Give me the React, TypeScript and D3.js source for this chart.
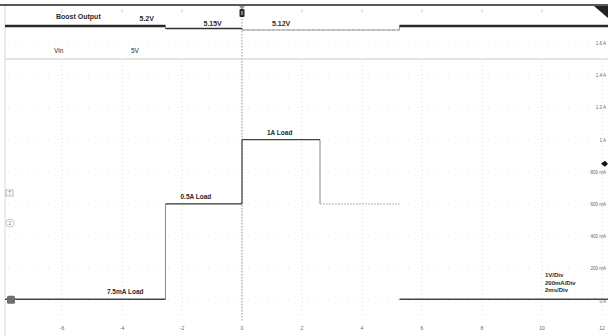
import * as d3 from 'd3';

// time axis (ms), trigger at 0
const timeTicks = [-6, -4, -2, 0, 2, 4, 6, 8, 10, 12];
const timeTickLabels = ['-6', '-4', '-2', '0', '2', '4', '6', '8', '10', '12'];

// current channel (mA)
const currentTicks = [0, 200, 400, 600, 800, 1000, 1200, 1400, 1600];
const currentTickLabels = ['0 A', '200 mA', '400 mA', '600 mA', '800 mA', '1 A', '1.2 A', '1.4 A', '1.6 A'];

// step edges for each trace
const boostTimes = [-7.9, -2.55, 0, 5.25, 12.2];
const boostVolts = [5.2, 5.15, 5.12, 5.2];
const boostLabels = ['5.2V', '5.15V', '5.12V'];

const loadTimes = [-7.9, -2.55, 0, 2.6, 5.25, 12.2];
const loadCurrent = [7.5, 600, 1000, 600, 7.5];
const loadLabels = ['7.5mA Load', '0.5A Load', '1A Load'];

const vinTimes = [-7.9, 12.2];
const vinVolts = [5, 5];

const scaleLines = ['1V/Div', '200mA/Div', '2ms/Div'];

const W = 608;
const H = 336;
const FONT = '"Liberation Sans", Arial, sans-serif';

export default function App() {
  const x = d3.scaleLinear().domain([-7.9, 12.2]).range([5, 608]);
  const yI = d3.scaleLinear().domain([0, 1600]).range([300.5, 43]);
  const yV = d3.scaleLinear().domain([5.12, 5.2]).range([30, 26]);
  const yVin = d3.scaleLinear().domain([4, 6]).range([92, 26]);

  const seg = (t0: number, t1: number, yy: number) =>
    d3.line<[number, number]>()([[x(t0), yy], [x(t1), yy]]) ?? '';

  const stepPath = (times: number[], vals: number[], sc: (v: number) => number) => {
    const pts: [number, number][] = vals.map((v, i) => [x(times[i]), sc(v)]);
    pts.push([x(times[times.length - 1]), sc(vals[vals.length - 1])]);
    return d3.line<[number, number]>().curve(d3.curveStepAfter)(pts) ?? '';
  };

  const boostStyle = [
    { stroke: '#2a2a2a', w: 2.4, dash: '' },
    { stroke: '#333', w: 1.3, dash: '' },
    { stroke: '#aaa', w: 1, dash: '3,2' },
    { stroke: '#2a2a2a', w: 2.6, dash: '' },
  ];
  const loadStyle = [
    { stroke: '#444', w: 1.6, dash: '' },
    { stroke: '#333', w: 1.3, dash: '' },
    { stroke: '#444', w: 1.2, dash: '' },
    { stroke: '#b5b5b5', w: 1, dash: '2,1' },
    { stroke: '#444', w: 1.4, dash: '' },
  ];

  const x0 = x(0);

  return (
    <svg
      width={W}
      height={H}
      style={{ position: 'absolute', left: 0, top: 0, background: '#fff' }}
      fontFamily={FONT}
    >
      {/* grid */}
      {timeTicks.map((t) => (
        <line key={'gv' + t} x1={x(t)} x2={x(t)} y1={62} y2={318}
          stroke="#cfcfcf" strokeWidth={0.8} strokeDasharray="1,3" />
      ))}
      {currentTicks.map((c) => (
        <line key={'gh' + c} x1={8} x2={590} y1={yI(c)} y2={yI(c)}
          stroke="#dcdcdc" strokeWidth={0.8} strokeDasharray="1,9" />
      ))}
      {timeTicks.map((t) => (
        <line key={'tt' + t} x1={x(t)} x2={x(t)} y1={9} y2={13} stroke="#c8c8c8" strokeWidth={0.8} />
      ))}

      {/* frame */}
      <line x1={5} x2={5} y1={5} y2={H} stroke="#d8d8d8" strokeWidth={1} />
      <line x1={0} x2={W} y1={5} y2={5} stroke="#222" strokeWidth={1.6} />

      {/* trigger cursor */}
      <line x1={x0} x2={x0} y1={10} y2={322} stroke="#999" strokeWidth={1} strokeDasharray="1.5,1.5" />
      <path d={`M${x0 - 3},6 L${x0 + 3},6 L${x0},10 Z`} fill="#999" />
      <rect x={x0 - 2.5} y={9} width={5} height={8} rx={1} fill="#2a2a2a" />
      <line x1={x0} x2={x0} y1={11} y2={15} stroke="#fff" strokeWidth={0.8} />

      {/* Vin */}
      <path d={stepPath(vinTimes, vinVolts, yVin)} fill="none" stroke="#c9c9c9" strokeWidth={1} />

      {/* Boost output */}
      <path d={stepPath(boostTimes, boostVolts, yV)} fill="none" stroke="#888" strokeWidth={0.8} />
      {boostVolts.map((v, i) => (
        <path key={'b' + i} d={seg(boostTimes[i], boostTimes[i + 1], yV(v))} fill="none"
          stroke={boostStyle[i].stroke} strokeWidth={boostStyle[i].w} strokeDasharray={boostStyle[i].dash} />
      ))}

      {/* load current */}
      <line x1={x(loadTimes[1])} x2={x(loadTimes[1])} y1={yI(loadCurrent[0])} y2={yI(loadCurrent[1])}
        stroke="#8a8a8a" strokeWidth={1} />
      <line x1={x(loadTimes[2])} x2={x(loadTimes[2])} y1={yI(loadCurrent[1])} y2={yI(loadCurrent[2])}
        stroke="#444" strokeWidth={1.2} />
      <line x1={x(loadTimes[3])} x2={x(loadTimes[3])} y1={yI(loadCurrent[2])} y2={yI(loadCurrent[3])}
        stroke="#888" strokeWidth={1} />
      {loadCurrent.map((c, i) => (
        <path key={'l' + i} d={seg(loadTimes[i], loadTimes[i + 1], yI(c))} fill="none"
          stroke={loadStyle[i].stroke} strokeWidth={loadStyle[i].w} strokeDasharray={loadStyle[i].dash} />
      ))}

      {/* channel labels */}
      <g fill="#2a2a2a" fontWeight="bold">
        <text x={56} y={19} fontSize={7}>Boost Output</text>
        <text x={x(boostTimes[1]) - 26} y={yV(boostVolts[0]) - 5} fontSize={7}>{boostLabels[0]}</text>
        <text x={x(boostTimes[1]) + 38} y={yV(boostVolts[1]) - 2.5} fontSize={7}>{boostLabels[1]}</text>
        <text x={x(boostTimes[2]) + 30} y={yV(boostVolts[2]) - 4} fontSize={7}>{boostLabels[2]}</text>
        <text x={54} y={yVin(vinVolts[0]) - 6} fontSize={6.5} fontWeight="normal">Vin</text>
        <text x={131} y={yVin(vinVolts[0]) - 6} fontSize={6.5} fontWeight="normal">5V</text>
        <text x={x(loadTimes[1]) - 22} y={yI(loadCurrent[0]) - 5} fontSize={6.5} textAnchor="end">{loadLabels[0]}</text>
        <text x={x(loadTimes[1]) + 15} y={yI(loadCurrent[1]) - 5} fontSize={6.5}>{loadLabels[1]}</text>
        <text x={x(loadTimes[2]) + 25} y={yI(loadCurrent[2]) - 5} fontSize={6.5}>{loadLabels[2]}</text>
        {scaleLines.map((s, i) => (
          <text key={s} x={545} y={277 + i * 7.5} fontSize={6}>{s}</text>
        ))}
      </g>

      {/* right axis (current) */}
      {currentTicks.map((c, i) => (
        <text key={'rl' + c} x={606} y={yI(c) + 2} fontSize={4.5} fill="#666" textAnchor="end">{currentTickLabels[i]}</text>
      ))}
      <path d={`M601,${yI(800) - 8} L605,${yI(800) - 11} L608,${yI(800) - 8} L605,${yI(800) - 5} Z`} fill="#111" />
      <path d="M594,6 L608,6 L608,18 Z" fill="#222" />

      {/* bottom axis (time) */}
      {timeTicks.map((t, i) => (
        <text key={'bl' + t} x={Math.min(x(t), 603)} y={330} fontSize={5} fill="#666" textAnchor="middle">{timeTickLabels[i]}</text>
      ))}

      {/* left markers */}
      <rect x={6} y={190} width={7} height={6} fill="none" stroke="#999" strokeWidth={0.7} />
      <text x={9.5} y={195} fontSize={4.5} fill="#777" textAnchor="middle">T</text>
      <circle cx={10} cy={223} r={4} fill="none" stroke="#aaa" strokeWidth={0.7} />
      <text x={10} y={225} fontSize={5} fill="#777" textAnchor="middle">2</text>
      <rect x={7} y={yI(loadCurrent[0]) - 3.5} width={8} height={8} rx={1.5} fill="#6e6e6e" />
    </svg>
  );
}
